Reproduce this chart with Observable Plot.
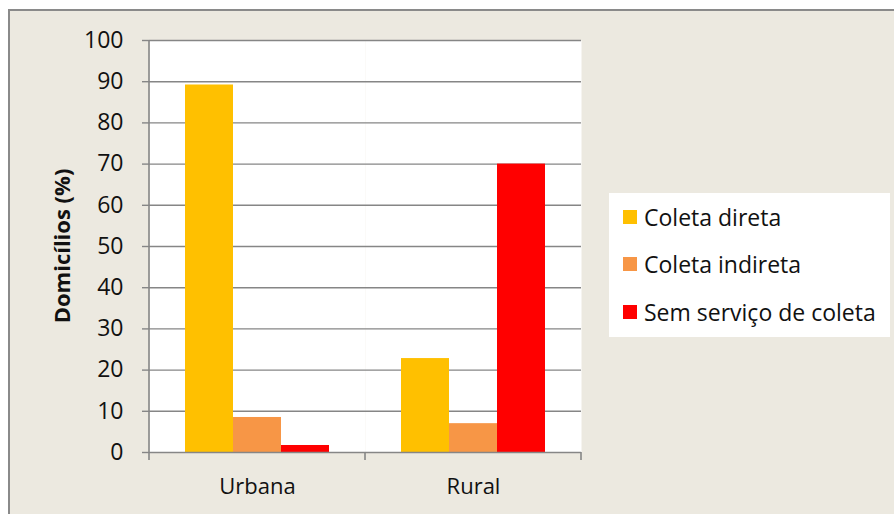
<!DOCTYPE html>
<html>
<head>
<meta charset="utf-8">
<script src="https://cdn.jsdelivr.net/npm/d3@7"></script>
<script src="https://cdn.jsdelivr.net/npm/@observablehq/plot@0.6"></script>
<style>
  html, body { margin: 0; padding: 0; background: #fff; }
  #wrap { position: relative; width: 894px; height: 515px; overflow: hidden; background: #fff; font-family: "Open Sans", Lato, sans-serif; }
  #bg { position: absolute; left: 8px; top: 9px; width: 886px; height: 505px; box-sizing: border-box;
        background: #ECE9E0; border-top: 2px solid #8a8a8a; border-left: 2px solid #8a8a8a; }
  #chart { position: absolute; left: 0; top: 0; }
  #legend { position: absolute; left: 609px; top: 193px; width: 281px; height: 144px; background: #fff; }
  .row { position: absolute; left: 14px; height: 24px; display: flex; align-items: center; font-size: 23px; color: #111; white-space: nowrap; }
  .sw { width: 14px; height: 14px; margin-right: 7px; }
</style>
</head>
<body>
<div id="wrap">
  <div id="bg"></div>
  <div id="chart"></div>
  <div id="legend"></div>
</div>
<script>
const categories = ["Urbana", "Rural"];
const series = ["Coleta direta", "Coleta indireta", "Sem serviço de coleta"];
const urbanaValues = [89.2, 8.5, 1.7];
const ruralValues = [22.8, 7.0, 70.0];
const seriesColors = ["#FFC000", "#F79646", "#FF0000"];
const yTicks = [0, 10, 20, 30, 40, 50, 60, 70, 80, 90, 100];
const yLabel = "Domicílios (%)";

const valuesByCategory = [urbanaValues, ruralValues];
const data = categories.flatMap((c, i) =>
  series.map((s, j) => ({category: c, series: s, value: valuesByCategory[i][j]}))
);

const W = 894, H = 515;
const mL = 148, mR = 313, mT = 40, mB = 63;

const plot = Plot.plot({
  width: W,
  height: H,
  marginLeft: mL,
  marginRight: mR,
  marginTop: mT,
  marginBottom: mB,
  style: {background: "transparent", fontFamily: "'Open Sans', Lato, sans-serif", color: "#111"},
  fx: {domain: categories, padding: 0},
  x: {domain: series, paddingInner: 0, paddingOuter: 0.74, axis: null},
  y: {domain: [0, 100]},
  color: {domain: series, range: seriesColors},
  marks: [
    Plot.frame({fill: "white", stroke: "none"}),
    Plot.gridY(yTicks.filter(d => d > 0), {stroke: "#868686", strokeOpacity: 1, strokeWidth: 1.4}),
    Plot.barY(data, {fx: "category", x: "series", y: "value", fill: "series"}),
    Plot.ruleY([0], {stroke: "#868686", strokeWidth: 1.6}),
    Plot.axisY(yTicks, {tickSize: 7, tickPadding: 19, fontSize: 23, stroke: "#868686", strokeWidth: 1.4, label: null, fill: "#111"}),
    Plot.axisFx({anchor: "bottom", tickSize: 0, tickPadding: 26, fontSize: 22, label: null, fill: "#111"})
  ]
});

const svg = d3.select(plot);
const fx = plot.scale("fx");
const y = plot.scale("y");
const y0 = y.apply(0), y100 = y.apply(100);
const x0 = fx.apply(categories[0]);
// left axis line
svg.append("line").attr("x1", x0).attr("x2", x0).attr("y1", y100).attr("y2", y0)
  .attr("stroke", "#868686").attr("stroke-width", 1.6);
// category boundary ticks
const bounds = categories.map(c => fx.apply(c)).concat([fx.apply(categories[categories.length - 1]) + fx.bandwidth]);
bounds.forEach(b => {
  svg.append("line").attr("x1", b).attr("x2", b).attr("y1", y0).attr("y2", y0 + 8)
    .attr("stroke", "#868686").attr("stroke-width", 1.6);
});
// y axis title
svg.append("text")
  .attr("transform", `translate(62,${(y0 + y100) / 2}) rotate(-90)`)
  .attr("text-anchor", "middle").attr("dy", "0.35em")
  .attr("font-size", 22).attr("font-weight", "bold").attr("fill", "#111")
  .text(yLabel);

document.getElementById("chart").appendChild(plot);

const legend = document.getElementById("legend");
const rowCenters = [24, 71, 119];
series.forEach((s, i) => {
  const row = document.createElement("div");
  row.className = "row";
  row.style.top = (rowCenters[i] - 12) + "px";
  const sw = document.createElement("div");
  sw.className = "sw";
  sw.style.background = seriesColors[i];
  const t = document.createElement("span");
  t.textContent = s;
  row.appendChild(sw);
  row.appendChild(t);
  legend.appendChild(row);
});
</script>
</body>
</html>
